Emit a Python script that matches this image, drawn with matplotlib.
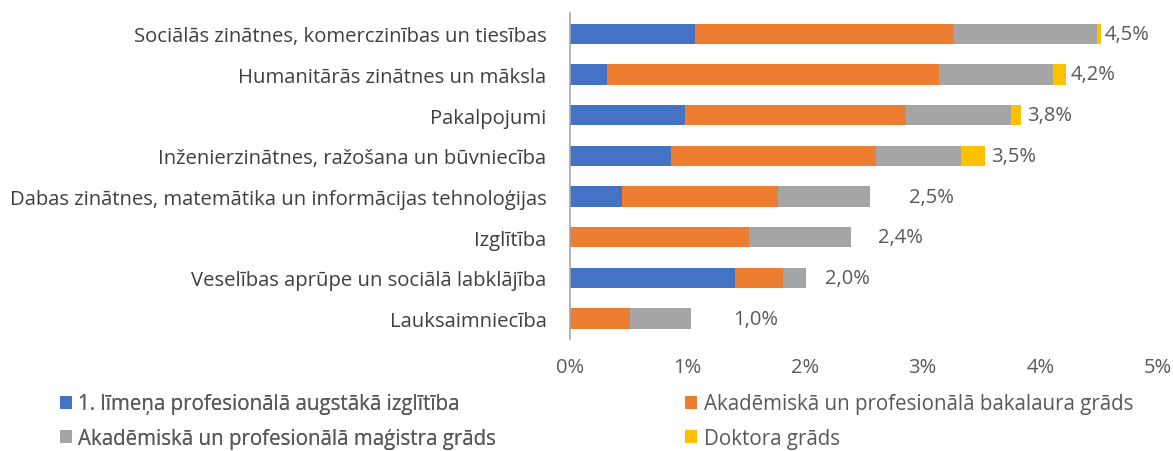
import matplotlib.pyplot as plt
from matplotlib.ticker import FuncFormatter

plt.rcParams['font.family'] = ['Open Sans', 'DejaVu Sans']

categories = [
    "Sociālās zinātnes, komerczinības un tiesības",
    "Humanitārās zinātnes un māksla",
    "Pakalpojumi",
    "Inženierzinātnes, ražošana un būvniecība",
    "Dabas zinātnes, matemātika un informācijas tehnoloģijas",
    "Izglītība",
    "Veselības aprūpe un sociālā labklājība",
    "Lauksaimniecība",
]
series_names = [
    "1. līmeņa profesionālā augstākā izglītība",
    "Akadēmiskā un profesionālā bakalaura grāds",
    "Akadēmiskā un profesionālā maģistra grāds",
    "Doktora grāds",
]
level1 = [1.06, 0.31, 0.98, 0.86, 0.44, 0.00, 1.40, 0.00]
bachelor = [2.21, 2.83, 1.88, 1.74, 1.33, 1.52, 0.41, 0.51]
master = [1.21, 0.97, 0.89, 0.73, 0.78, 0.87, 0.20, 0.52]
doctor = [0.04, 0.11, 0.09, 0.20, 0.00, 0.00, 0.00, 0.00]
total_labels = ["4,5%", "4,2%", "3,8%", "3,5%", "2,5%", "2,4%", "2,0%", "1,0%"]

colors = ["#4472C4", "#ED7D31", "#A5A5A5", "#FFC000"]
# gap between bar end and its total label (the source places them by hand)
label_gap = [0.03, 0.04, 0.05, 0.05, 0.33, 0.23, 0.16, 0.36]

fig = plt.figure(figsize=(11.73, 4.52), dpi=100)
ax = fig.add_axes([0.486, 0.248, 0.501, 0.72])

y = list(range(len(categories)))
left = [0.0] * len(categories)
handles = []
for vals, name, col in zip([level1, bachelor, master, doctor], series_names, colors):
    b = ax.barh(y, vals, left=left, height=0.5, color=col, label=name)
    handles.append(b)
    left = [l + v for l, v in zip(left, vals)]

for yi, tot, lab, gap in zip(y, left, total_labels, label_gap):
    ax.text(tot + gap, yi, lab, va="center", ha="left", fontsize=14.5, color="#595959")

ax.set_ylim(len(categories) - 0.5, -0.5)
ax.set_xlim(0, 5)
ax.set_yticks(y)
ax.set_yticklabels(categories, fontsize=14.6, color="#404040")
ax.set_xticks([0, 1, 2, 3, 4, 5])
ax.xaxis.set_major_formatter(FuncFormatter(lambda v, p: f"{v:.0f}%"))
ax.tick_params(axis="x", length=0, labelsize=14.5, labelcolor="#595959", pad=13)
ax.tick_params(axis="y", length=0, pad=17)
for s in ["top", "right", "bottom"]:
    ax.spines[s].set_visible(False)
ax.spines["left"].set_color("#A6A6A6")
ax.spines["left"].set_linewidth(1.2)

leg_kw = dict(loc="center left", frameon=False, fontsize=14.8, labelcolor="#595959",
              handlelength=0.6, handleheight=0.6, handletextpad=0.3, labelspacing=0.65,
              borderaxespad=0, borderpad=0)
leg1 = fig.legend([handles[0], handles[2]], [series_names[0], series_names[2]],
                  bbox_to_anchor=(0.051, 0.066), **leg_kw)
fig.add_artist(leg1)
fig.legend([handles[1], handles[3]], [series_names[1], series_names[3]],
           bbox_to_anchor=(0.584, 0.066), **leg_kw)

fig.savefig("out.png", dpi=100)
